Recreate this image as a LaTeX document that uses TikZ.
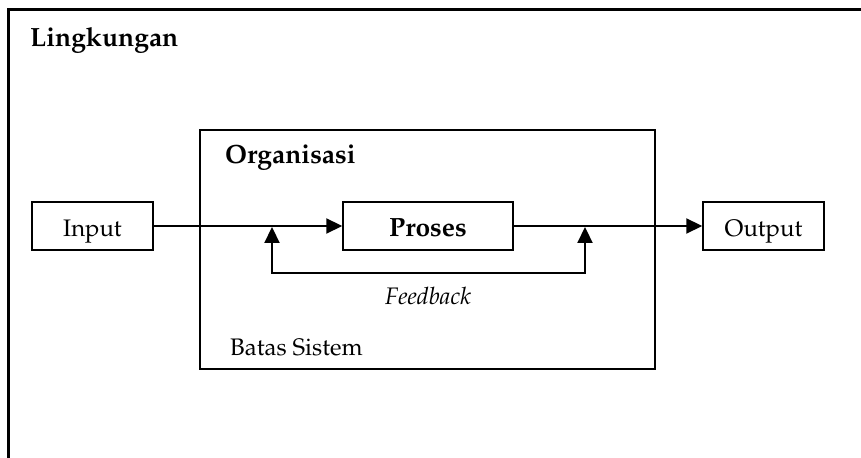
\documentclass[tikz,border=0pt]{standalone}
\usepackage[T1]{fontenc}
\usepackage{mathpazo}
\usetikzlibrary{arrows.meta}

\tikzset{
  frame/.style={draw, line width=2.3bp},
  block/.style={draw, line width=1.5bp, minimum height=48bp, inner sep=0pt,
                text height=21bp, text depth=0bp,
                font=\fontsize{24}{28}\selectfont},
  heading/.style={inner sep=0pt, font=\fontsize{26.5}{30}\selectfont\bfseries},
  caption/.style={inner sep=0pt, font=\fontsize{24}{28}\selectfont},
  flow/.style={line width=2.2bp, -{Triangle[length=16bp,width=15bp]}},
}

\begin{document}
\begin{tikzpicture}[x=1bp,y=-1bp]
  \useasboundingbox (0,0) rectangle (861,458);

  % environment frame (open to the right and bottom)
  \coordinate (envBL) at (8.5,460);
  \coordinate (envTL) at (8.5,9.5);
  \coordinate (envTR) at (862,9.5);
  \draw[frame] (envBL) -- (envTL) -- (envTR);
  \node[heading, anchor=base west] (env) at (30,47) {Lingkungan};

  % system boundary
  \node[frame, minimum width=455bp, minimum height=239bp, inner sep=0pt]
    (org) at (427.5,249.5) {};
  \node[heading, anchor=base west] (orgtitle) at (225,164) {Organisasi};
  \node[caption, anchor=base west] (bound) at (230,356) {Batas Sistem};

  % blocks
  \node[block, minimum width=121bp] (input)  at (92.5,226) {Input};
  \node[block, minimum width=170bp, font=\fontsize{26.5}{30}\selectfont\bfseries]
    (proses) at (428,226) {Proses};
  \node[block, minimum width=121bp] (output) at (763.5,226) {Output};

  % main flow
  \draw[flow] (input) -- (proses);
  \draw[flow] (proses) -- (output);

  % feedback loop
  \coordinate (fbL) at (272,227);
  \coordinate (fbR) at (585,227);
  \coordinate (fbLB) at (272,273);
  \coordinate (fbRB) at (585,273);
  \draw[line width=2.2bp, {Triangle[length=16bp,width=15bp]}-{Triangle[length=16bp,width=15bp]}]
    (fbL) -- (fbLB) -- (fbRB) -- (fbR);
  \node[caption, anchor=base, font=\fontsize{24}{28}\selectfont\itshape]
    (fb) at (428,305) {Feedback};
\end{tikzpicture}
\end{document}
